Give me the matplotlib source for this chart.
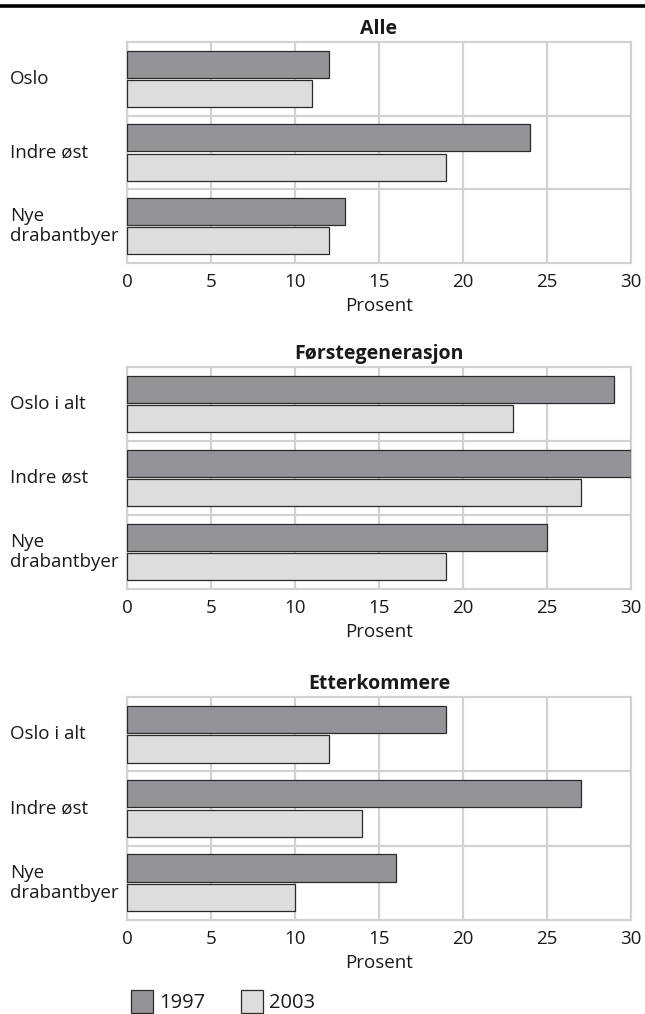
import matplotlib
matplotlib.use("Agg")
import matplotlib.pyplot as plt
from matplotlib.patches import Rectangle
from matplotlib.transforms import blended_transform_factory
import numpy as np

plt.rcParams['font.family'] = ['Open Sans', 'DejaVu Sans']

titles = ["Alle", "Førstegenerasjon", "Etterkommere"]
categories = [
    ["Oslo", "Indre øst", "Nye\ndrabantbyer"],
    ["Oslo i alt", "Indre øst", "Nye\ndrabantbyer"],
    ["Oslo i alt", "Indre øst", "Nye\ndrabantbyer"],
]
values_1997 = [
    [12, 24, 13],
    [29, 30, 25],
    [19, 27, 16],
]
values_2003 = [
    [11, 19, 12],
    [23, 27, 19],
    [12, 14, 10],
]
series_labels = ["1997", "2003"]
xticks = [0, 5, 10, 15, 20, 25, 30]

W, H = 645, 1014
fig = plt.figure(figsize=(W / 100, H / 100), dpi=100)

c1997 = "#939497"
c2003 = "#dcdddf"
edge = "#2a2a2a"
grid_c = "#d2d2d2"
txt_c = "#1a1a1a"

# top rule
fig.add_artist(plt.Line2D([0, 1], [1 - 6 / H, 1 - 6 / H], color="black", lw=2.6,
                          transform=fig.transFigure))

panels = [(42, 263), (367, 589), (697, 920)]
x0, x1 = 127, 631
fs = 13.5

for i, (top, bot) in enumerate(panels):
    ax = fig.add_axes([x0 / W, 1 - bot / H, (x1 - x0) / W, (bot - top) / H])
    n = len(categories[i])
    y = np.arange(n)
    h = 0.365
    off = 0.2
    ax.barh(y - off, values_1997[i], height=h, color=c1997, edgecolor=edge, lw=0.9, zorder=3)
    ax.barh(y + off, values_2003[i], height=h, color=c2003, edgecolor=edge, lw=0.9, zorder=3)
    ax.set_xlim(0, 30)
    ax.set_ylim(n - 0.5, -0.5)
    ax.set_xticks(xticks)
    ax.set_xticklabels([str(t) for t in xticks], fontsize=fs, color=txt_c)
    ax.set_yticks(y)
    ax.set_yticklabels([])
    ax.tick_params(axis="y", length=0)
    ax.tick_params(axis="x", length=0, pad=7.5)
    trans = blended_transform_factory(fig.transFigure, ax.transData)
    for yy, lab in zip(y, categories[i]):
        fig.text(10 / W, yy, lab, transform=trans, fontsize=fs, color=txt_c,
                 ha="left", va="center", ma="left", linespacing=1.15)
    for t in xticks:
        ax.axvline(t, color=grid_c, lw=1.6, zorder=1)
    for b in np.arange(n - 1) + 0.5:
        ax.axhline(b, color=grid_c, lw=1.6, zorder=1)
    for s in ax.spines.values():
        s.set_color(grid_c)
        s.set_linewidth(1.6)
    ax.set_xlabel("Prosent", fontsize=fs, color=txt_c, labelpad=4)
    ax.set_title(titles[i], fontsize=14, fontweight="bold", pad=6, color=txt_c)

# legend
ly = 1002
for lx, col, lab in [(131, c1997, series_labels[0]), (241, c2003, series_labels[1])]:
    fig.add_artist(Rectangle((lx / W, 1 - (ly + 11) / H), 22 / W, 23 / H,
                             transform=fig.transFigure, facecolor=col,
                             edgecolor=edge, lw=0.9))
    fig.text((lx + 28) / W, 1 - (ly + 1) / H, lab, fontsize=fs + 1, va="center",
             ha="left", color=txt_c)

fig.savefig("out.png", dpi=100)
